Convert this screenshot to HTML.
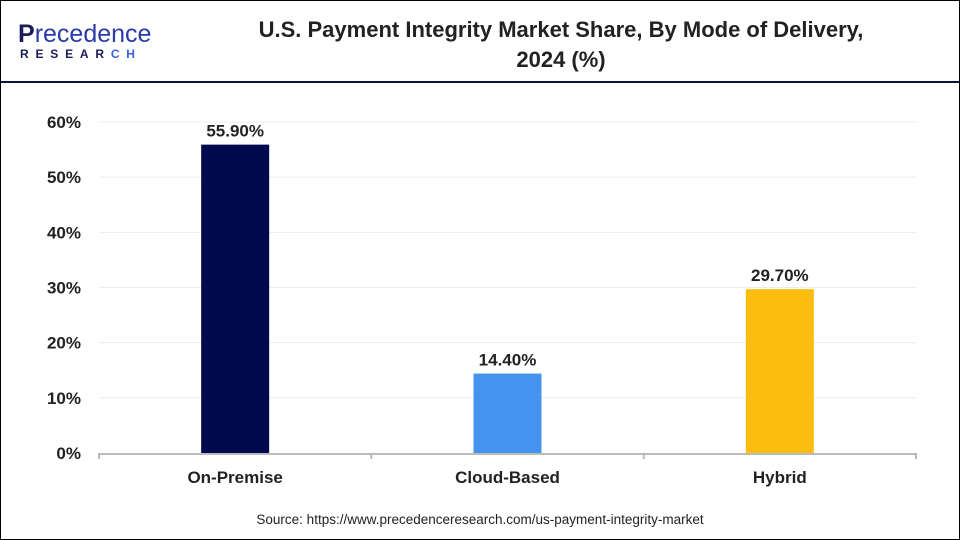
<!DOCTYPE html>
<html><head><meta charset="utf-8"><style>
body{margin:0;background:#fff}
#wrap{position:relative;width:958px;height:538px;border:1px solid #000;overflow:hidden;font-family:"Liberation Sans",Arial,sans-serif}
</style></head><body>
<div id="wrap">
<div style="position:absolute;left:17px;top:20px;width:150px">
 <div style="font-size:25px;font-weight:bold;color:#1b1d5a;line-height:26px">P<span style="color:#2a3aa8;font-weight:normal">recedence</span></div>
 <div style="font-size:12px;font-weight:bold;color:#1b1d5a;letter-spacing:6.8px;margin-left:2px">RESEAR<span style="color:#3b62d8">CH</span></div>
</div>
<div style="position:absolute;left:170px;top:14px;width:780px;text-align:center;font-size:22px;font-weight:bold;color:#222;line-height:30px">U.S. Payment Integrity Market Share, By Mode of Delivery,<br>2024 (%)</div>
<div style="position:absolute;left:0;top:80px;width:958px;height:2px;background:#0d1240"></div>
<svg id="c" width="958" height="538" style="position:absolute;left:0;top:0"></svg>
<div style="position:absolute;left:0;top:511px;width:958px;text-align:center;font-size:13.5px;color:#222">Source: https://www.precedenceresearch.com/us-payment-integrity-market</div>
</div>
<script>
const categories=["On-Premise","Cloud-Based","Hybrid"];
const values=[55.9,14.4,29.7];
const labels=["55.90%","14.40%","29.70%"];
const colors=["#020a4e","#4493ef","#fdbd10"];
const ticks=[0,10,20,30,40,50,60];
const ns="http://www.w3.org/2000/svg",svg=document.getElementById('c');
const x0=98,x1=915,y0=452,y60=121;
const y=v=>y0-(y0-y60)*v/60;
const bw=(x1-x0)/categories.length;
function mk(t,a,txt){const e=document.createElementNS(ns,t);for(const k in a)e.setAttribute(k,a[k]);if(txt!==undefined)e.textContent=txt;svg.appendChild(e);return e;}
ticks.forEach(t=>{
 if(t>0){const g=mk('line',{x1:x0,x2:x1,y1:y(t),y2:y(t),stroke:'#ececec','stroke-width':1});
 
 }
 const l=mk('text',{x:80,y:y(t)+6,'text-anchor':'end','font-size':17,'font-weight':'bold',fill:'#222','font-family':'Liberation Sans'},t+'%');
 
 
});
const ax=mk('line',{x1:x0,x2:x1,y1:y0+1,y2:y0+1,stroke:'#bbb','stroke-width':2});


for(let i=0;i<=categories.length;i++){const tk=mk('line',{x1:x0+i*bw,x2:x0+i*bw,y1:y0,y2:y0+6,stroke:'#bbb','stroke-width':2});
 
 }
categories.forEach((c,i)=>{
 const cx=x0+bw*(i+0.5),w=68;
 const r=mk('rect',{x:cx-w/2,y:y(values[i]),width:w,height:y0-y(values[i]),fill:colors[i]});
 
 
 const v=mk('text',{x:cx,y:y(values[i])-8,'text-anchor':'middle','font-size':17,'font-weight':'bold',fill:'#222','font-family':'Liberation Sans'},labels[i]);
 
 
 const t=mk('text',{x:cx,y:482,'text-anchor':'middle','font-size':17,'font-weight':'bold',fill:'#222','font-family':'Liberation Sans'},c);
 
 
});
</script>
</body></html>
